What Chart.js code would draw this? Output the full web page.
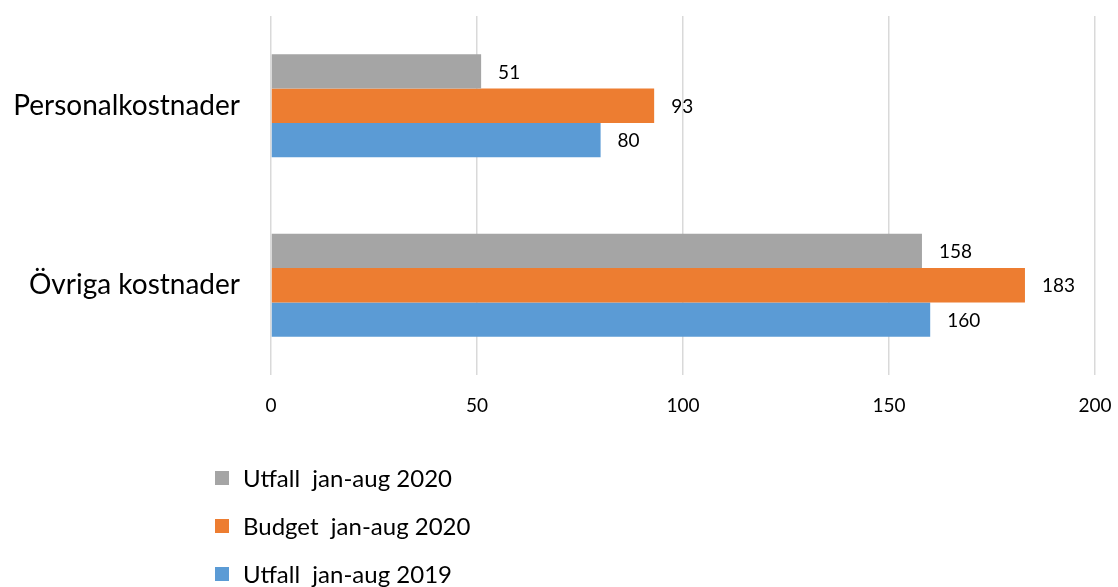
<!DOCTYPE html>
<html>
<head>
<meta charset="utf-8">
<script src="https://cdn.jsdelivr.net/npm/chart.js@4"></script>
<style>
    html, body { margin: 0; padding: 0; background: #fff; }
    #wrap { width: 1118px; height: 587px; position: relative; }
</style>
</head>
<body>
<div id="wrap"><canvas id="chart"></canvas></div>
<script>
const categories = ['Personalkostnader', 'Övriga kostnader'];
const seriesNames = ['Utfall  jan-aug 2020', 'Budget  jan-aug 2020', 'Utfall  jan-aug 2019'];
const utfall2020 = [51, 158];
const budget2020 = [93, 183];
const utfall2019 = [80, 160];
const xTicks = [0, 50, 100, 150, 200];

const colors = ['#A5A5A5', '#ED7D31', '#5B9BD5'];
const FONT = 'Lato, "Open Sans", sans-serif';

// value labels at the end of each bar
const valueLabels = {
    id: 'valueLabels',
    afterDatasetsDraw(chart) {
        const ctx = chart.ctx;
        ctx.save();
        ctx.font = '19px ' + FONT;
        ctx.fillStyle = '#000';
        ctx.textAlign = 'left';
        ctx.textBaseline = 'middle';
        chart.data.datasets.forEach((ds, i) => {
            chart.getDatasetMeta(i).data.forEach((bar, j) => {
                ctx.fillText(String(ds.data[j]), bar.x + 17, bar.y + 1);
            });
        });
        ctx.restore();
    }
};

// vertical legend under the axis
const sideLegend = {
    id: 'sideLegend',
    afterDraw(chart) {
        const ctx = chart.ctx;
        const left = chart.chartArea.left - 56;
        ctx.save();
        ctx.font = '24px ' + FONT;
        ctx.textBaseline = 'middle';
        ctx.textAlign = 'left';
        chart.data.datasets.forEach((ds, i) => {
            const y = 478 + i * 48;
            ctx.fillStyle = ds.backgroundColor;
            ctx.fillRect(left, y - 7, 14, 14);
            ctx.fillStyle = '#000';
            ctx.fillText(ds.label, left + 28, y + 1);
        });
        ctx.restore();
    }
};

const noPad = (scale) => {
    scale.paddingLeft = 0;
    scale.paddingRight = 0;
    scale.paddingTop = 0;
    scale.paddingBottom = 0;
};

new Chart(document.getElementById('chart'), {
    type: 'bar',
    data: {
        labels: categories,
        datasets: [
            { label: seriesNames[0], data: utfall2020, backgroundColor: colors[0] },
            { label: seriesNames[1], data: budget2020, backgroundColor: colors[1] },
            { label: seriesNames[2], data: utfall2019, backgroundColor: colors[2] }
        ]
    },
    options: {
        indexAxis: 'y',
        responsive: true,
        maintainAspectRatio: false,
        animation: false,
        layout: { padding: { left: 0, right: 23, top: 16, bottom: 0 } },
        datasets: {
            bar: { categoryPercentage: 0.574, barPercentage: 1.0 }
        },
        plugins: {
            legend: { display: false },
            tooltip: { enabled: false }
        },
        scales: {
            x: {
                min: 0,
                max: 200,
                afterBuildTicks: (scale) => { scale.ticks = xTicks.map(v => ({ value: v })); },
                afterFit: (scale) => { scale.height = 212; noPad(scale); },
                border: { display: false },
                grid: { color: '#D9D9D9', lineWidth: 1.5, drawTicks: false },
                ticks: { color: '#000', padding: 19, font: { family: FONT, size: 19 } }
            },
            y: {
                afterFit: (scale) => { scale.width = 271; noPad(scale); },
                border: { display: false },
                grid: { display: false, drawTicks: false },
                ticks: { color: '#000', padding: 31, font: { family: FONT, size: 28 } }
            }
        }
    },
    plugins: [valueLabels, sideLegend]
});
</script>
</body>
</html>
